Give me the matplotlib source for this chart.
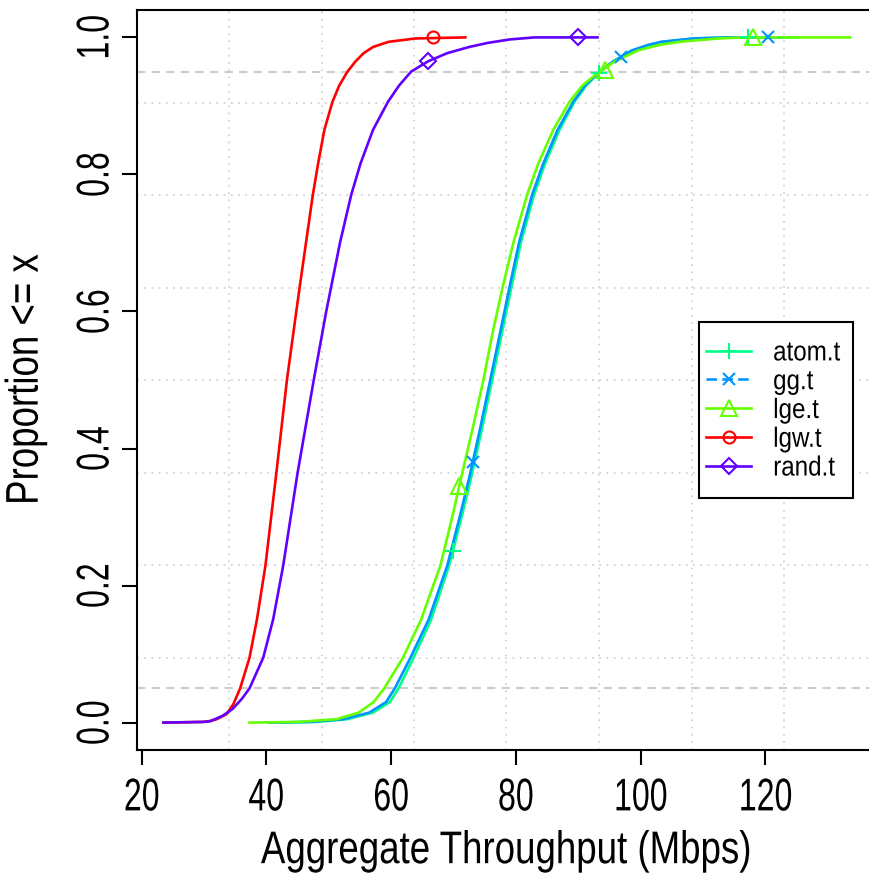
import matplotlib
matplotlib.use("Agg")
import matplotlib.pyplot as plt
from matplotlib.lines import Line2D
from matplotlib.patches import Rectangle
from matplotlib.patheffects import AbstractPathEffect
from matplotlib.transforms import Affine2D

plt.rcParams['font.family'] = ['Liberation Sans', 'DejaVu Sans']

# ECDF knots: aggregate throughput (Mbps) against cumulative proportion
prop_right = [0.0, 0.001, 0.005, 0.0146, 0.03, 0.05, 0.0947, 0.15, 0.229, 0.3, 0.364, 0.43, 0.5, 0.57,
              0.636, 0.7, 0.77, 0.816, 0.865, 0.906, 0.93, 0.948, 0.965, 0.981, 0.989, 0.9936, 0.9985,
              1.0, 1.0]

atom_x = [42.0, 48.0, 53.0, 57.1, 59.8, 61.2, 63.6, 66.4, 69.3, 71.3, 73.0, 74.6, 76.2, 77.8,
          79.3, 80.8, 82.9, 84.7, 87.0, 89.4, 91.3, 93.3, 95.7, 98.8, 101.5, 103.6, 109.0, 114.5, 125.2]
atom_y = prop_right

gg_x = [40.5, 47.0, 52.4, 56.5, 59.2, 60.6, 63.1, 66.0, 69.0, 71.0, 72.7, 74.3, 75.9, 77.5,
        79.0, 80.5, 82.6, 84.4, 86.7, 89.2, 91.1, 93.2, 95.6, 98.6, 101.2, 103.3, 108.5, 113.8, 122.5]
gg_y = prop_right

lge_x = [37.3, 45.0, 51.3, 54.8, 57.2, 58.9, 61.9, 64.8, 67.9, 69.8, 71.4, 73.1, 74.8, 76.3,
         77.9, 79.6, 81.8, 83.6, 86.0, 88.6, 90.7, 93.1, 95.9, 99.6, 103.0, 106.3, 112.5, 116.5, 133.6]
lge_y = [0.0, 0.001, 0.005, 0.0146, 0.03, 0.05, 0.0947, 0.15, 0.229, 0.3, 0.364, 0.43, 0.5, 0.57,
         0.636, 0.7, 0.77, 0.816, 0.865, 0.906, 0.93, 0.948, 0.965, 0.981, 0.989, 0.9936, 0.9985,
         1.0, 1.0]

lgw_x = [23.5, 29.9, 31.0, 32.0, 33.6, 34.7, 35.8, 37.3, 38.5, 39.85, 41.6, 43.3, 44.8, 45.35,
         46.35, 47.45, 48.3, 49.3, 50.6, 51.7, 53.0, 54.3, 55.6, 57.1, 59.6, 64.0, 71.9]
lgw_y = [0.0, 0.001, 0.0023, 0.0048, 0.0121, 0.0267, 0.05, 0.0947, 0.151, 0.229, 0.364, 0.5, 0.6,
         0.636, 0.7, 0.77, 0.816, 0.865, 0.906, 0.93, 0.95, 0.965, 0.977, 0.986, 0.9936, 0.9985, 1.0]

rand_x = [23.5, 29.9, 31.0, 33.0, 34.6, 36.1, 37.3, 39.5, 41.1, 42.7, 45.0, 47.6, 49.6, 51.8,
          53.6, 55.1, 57.1, 59.5, 61.3, 63.2, 65.9, 69.0, 72.5, 75.5, 79.0, 83.0, 93.1]
rand_y = [0.0, 0.001, 0.002, 0.01, 0.02, 0.035, 0.05, 0.0947, 0.151, 0.229, 0.364, 0.5, 0.6, 0.7,
          0.77, 0.816, 0.865, 0.906, 0.93, 0.95, 0.965, 0.977, 0.986, 0.992, 0.997, 1.0, 1.0]

# sparse points where the symbols sit on each curve
atom_mx, atom_my = [69.9, 93.3, 117.3], [0.251, 0.948, 1.0]
gg_mx, gg_my = [73.1, 96.9, 120.5], [0.381, 0.972, 1.0]
lge_mx, lge_my = [70.9, 94.3, 118.1], [0.345, 0.952, 1.0]
lgw_mx, lgw_my = [66.8], [1.0]
rand_mx, rand_my = [65.9, 90.0], [0.965, 1.0]

names = ["atom.t", "gg.t", "lge.t", "lgw.t", "rand.t"]
colors = ["#00FF88", "#0094FF", "#66FF00", "#FF0000", "#6100FF"]
markers = ["+", "x", "^", "o", "D"]
msizes = [12, 8.5, 11, 8.6, 8.3]


class Narrow(AbstractPathEffect):
    """Squeeze glyph outlines along the text direction."""

    def __init__(self, sx, anchor=0.5):
        super().__init__()
        self.sx = sx
        self.anchor = anchor

    def draw_path(self, renderer, gc, tpath, affine, rgbFace=None):
        ext = tpath.get_extents()
        cx = ext.x0 + self.anchor * ext.width
        squeeze = Affine2D().translate(-cx, 0).scale(self.sx, 1).translate(cx, 0)
        renderer.draw_path(gc, tpath, squeeze + affine, rgbFace)


fig = plt.figure(figsize=(8.69, 8.77), dpi=100)
ax = fig.add_axes([136.5 / 869, 127 / 877, 740 / 869, 740 / 877])
xlo, xhi = 19.18, 137.83
ylo, yhi = -0.04, 1.04
ax.set_xlim(xlo, xhi)
ax.set_ylim(ylo, yhi)

# dotted grid splitting the plot region into 8 x 8 cells
for k in range(1, 8):
    ax.axvline(xlo + k * (xhi - xlo) / 8, color="#D3D3D3", lw=1.3, ls=(0, (1, 3)), zorder=1)
    ax.axhline(ylo + k * (yhi - ylo) / 8, color="#D3D3D3", lw=1.3, ls=(0, (1, 3)), zorder=1)
for h in (0.05, 0.95):
    ax.axhline(h, color="#CCCCCC", lw=1.5, ls=(0, (4, 3)), zorder=1)

series = [(atom_x, atom_y, atom_mx, atom_my), (gg_x, gg_y, gg_mx, gg_my),
          (lge_x, lge_y, lge_mx, lge_my), (lgw_x, lgw_y, lgw_mx, lgw_my),
          (rand_x, rand_y, rand_mx, rand_my)]
for (xs, ys, mx, my), c, m, ms in zip(series, colors, markers, msizes):
    ax.plot(xs, ys, color=c, lw=1.9, zorder=3, solid_joinstyle="round")
    ax.plot(mx, my, ls="none", marker=m, ms=ms, mec=c, mfc="none", mew=1.5, zorder=4)

ax.spines["right"].set_visible(False)
for side in ("left", "bottom", "top"):
    ax.spines[side].set_linewidth(1.5)

ax.set_xticks([20, 40, 60, 80, 100, 120])
ax.set_yticks([0.0, 0.2, 0.4, 0.6, 0.8, 1.0])
ax.set_yticklabels(["0.0", "0.2", "0.4", "0.6", "0.8", "1.0"])
ax.tick_params(direction="out", length=11, width=1.5, labelsize=33)
ax.tick_params(axis="x", pad=8)
ax.tick_params(axis="y", labelrotation=90, pad=2)
for lab in ax.get_yticklabels():
    lab.set_va("center")

narrow = [Narrow(0.7)]
for lab in ax.get_xticklabels() + ax.get_yticklabels():
    lab.set_path_effects(narrow)

ax.set_xlabel("Aggregate Throughput (Mbps)", fontsize=33)
ax.set_ylabel("Proportion <= x", fontsize=33)
ax.xaxis.set_label_coords(0.5, -0.107)
ax.yaxis.set_label_coords(-0.12, 0.5)
ax.xaxis.label.set_path_effects([Narrow(0.8)])
ax.yaxis.label.set_path_effects([Narrow(0.8)])

# legend: white box with a black border, entries on top
ax.add_patch(Rectangle((0.7601, 0.3401), 0.2085, 0.2386, transform=ax.transAxes,
                       facecolor="white", edgecolor="black", lw=1.5, zorder=6))
handles = []
for name, c, m, ms in zip(names, colors, markers, msizes):
    ls = (0, (4, 2)) if name == "gg.t" else "-"
    handles.append(Line2D([], [], color=c, lw=1.9, ls=ls, marker=m, ms=ms,
                          mec=c, mfc="none", mew=1.5))
leg = ax.legend(handles, names, loc="upper left", bbox_to_anchor=(0.7696, 0.5535),
                frameon=False, fontsize=20, borderpad=0, borderaxespad=0,
                handlelength=1.62, handletextpad=0.79, labelspacing=0.1)
leg.set_zorder(7)
for t in leg.get_texts():
    t.set_path_effects([Narrow(0.87, anchor=0.0)])

fig.savefig("out.png", dpi=100)
